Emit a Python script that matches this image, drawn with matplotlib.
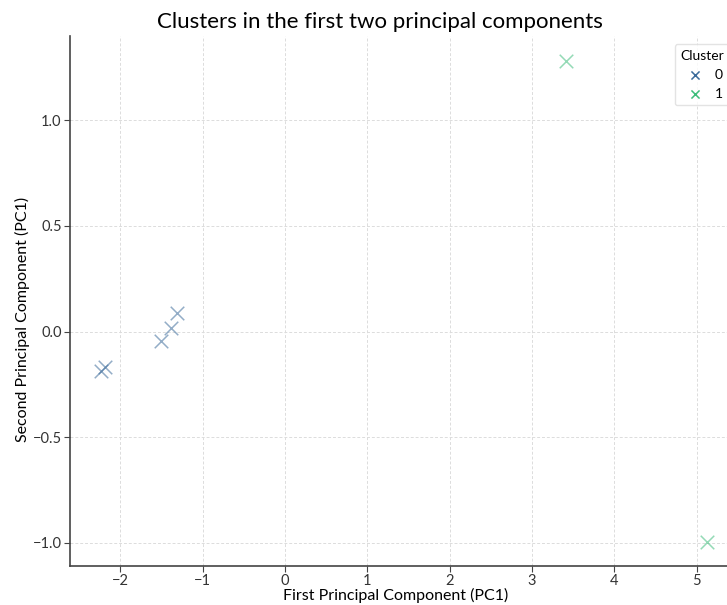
import matplotlib
matplotlib.use("Agg")
import matplotlib.pyplot as plt

plt.rcParams['font.family'] = ['Lato', 'DejaVu Sans']

pc1_c0 = [-2.23, -2.19, -1.50, -1.385, -1.316]
pc2_c0 = [-0.185, -0.17, -0.043, 0.017, 0.089]
pc1_c1 = [3.41, 5.13]
pc2_c1 = [1.28, -0.995]
cluster_labels = ["0", "1"]
colors = ["#3b6b9a", "#3dbd7a"]

fig = plt.figure(figsize=(7.27, 6.05), dpi=100)
ax = fig.add_axes([0.0963, 0.0645, 0.9187, 0.876])

ax.scatter(pc1_c0, pc2_c0, marker='x', s=95, color=colors[0], alpha=0.55, linewidths=1.1, label=cluster_labels[0])
ax.scatter(pc1_c1, pc2_c1, marker='x', s=95, color=colors[1], alpha=0.55, linewidths=1.1, label=cluster_labels[1])

ax.set_xlim(-2.61, 5.5)
ax.set_ylim(-1.109, 1.398)
ax.set_xticks([-2, -1, 0, 1, 2, 3, 4, 5])
ax.set_yticks([-1.0, -0.5, 0.0, 0.5, 1.0])
ax.set_xticklabels(["\u22122", "\u22121", "0", "1", "2", "3", "4", "5"])
ax.set_yticklabels(["\u22121.0", "\u22120.5", "0.0", "0.5", "1.0"])

ax.grid(True, linestyle=(0, (3, 2)), color='#dcdcdc', linewidth=0.7)
ax.set_axisbelow(True)
for s in ['top', 'right']:
    ax.spines[s].set_visible(False)
for s in ['left', 'bottom']:
    ax.spines[s].set_color('#444444')
    ax.spines[s].set_linewidth(1.2)
ax.tick_params(colors='#444444', labelcolor='#333333', labelsize=10.5, length=4, pad=2)

ax.set_title("Clusters in the first two principal components", fontsize=16, pad=6, x=0.464)
ax.set_xlabel("First Principal Component (PC1)", fontsize=11.5)
ax.set_ylabel("Second Principal Component (PC1)", fontsize=11.5)
ax.xaxis.set_label_coords(0.488, -0.041)
ax.yaxis.set_label_coords(-0.06, 0.466)

leg = ax.legend(title="Cluster", loc='upper right', fontsize=10, title_fontsize=10,
                frameon=True, borderaxespad=0.6, handletextpad=0.4, markerscale=0.6)
leg.get_frame().set_edgecolor('#dddddd')
for h in leg.legend_handles:
    h.set_alpha(1.0)

fig.savefig("out.png", dpi=100)
